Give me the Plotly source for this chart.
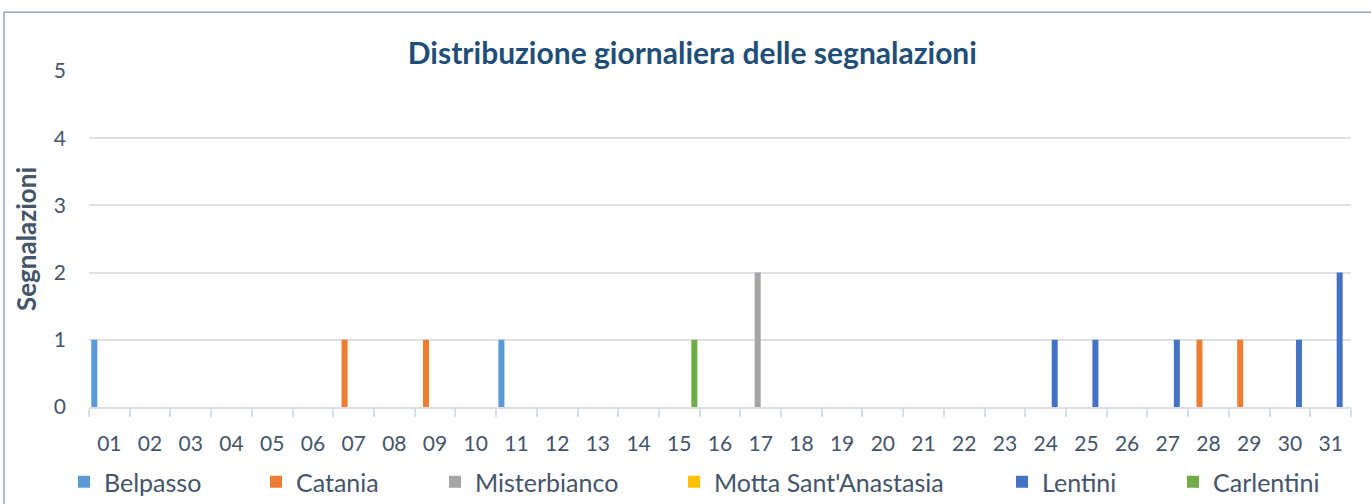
import plotly.graph_objects as go

days = [f"{d:02d}" for d in range(1, 32)]
series_names = ["Belpasso", "Catania", "Misterbianco", "Motta Sant'Anastasia", "Lentini", "Carlentini"]

belpasso = [1,0,0,0,0,0,0,0,0,0,1,0,0,0,0,0,0,0,0,0,0,0,0,0,0,0,0,0,0,0,0]
catania = [0,0,0,0,0,0,1,0,1,0,0,0,0,0,0,0,0,0,0,0,0,0,0,0,0,0,0,1,1,0,0]
misterbianco = [0,0,0,0,0,0,0,0,0,0,0,0,0,0,0,0,2,0,0,0,0,0,0,0,0,0,0,0,0,0,0]
motta = [0]*31
lentini = [0,0,0,0,0,0,0,0,0,0,0,0,0,0,0,0,0,0,0,0,0,0,0,1,1,0,1,0,0,1,2]
carlentini = [0,0,0,0,0,0,0,0,0,0,0,0,0,0,1,0,0,0,0,0,0,0,0,0,0,0,0,0,0,0,0]

values = [belpasso, catania, misterbianco, motta, lentini, carlentini]
colors = ["#5B9BD5", "#ED7D31", "#A5A5A5", "#FFC000", "#4472C4", "#70AD47"]

W, H = 1371, 504
# legend symbol left positions (px) from reference
legend_px = [81, 273, 452, 691, 1019, 1190]

TEXT = "#44546A"
FONT = "Lato"

fig = go.Figure()
for i, (name, vals, col) in enumerate(zip(series_names, values, colors)):
    lg = "legend" if i == 0 else f"legend{i+1}"
    fig.add_trace(go.Bar(x=days, y=vals, name=name, marker=dict(color=col, line=dict(width=0)),
                         legend=lg, showlegend=True))

layout_legends = {}
for i, px in enumerate(legend_px):
    key = "legend" if i == 0 else f"legend{i+1}"
    layout_legends[key] = dict(
        x=(px - 17) / W, xref="container", xanchor="left",
        y=1 - 482 / H, yref="container", yanchor="middle",
        orientation="h", font=dict(family=FONT, size=25, color=TEXT),
        bgcolor="rgba(0,0,0,0)", borderwidth=0, itemwidth=30,
        tracegroupgap=0,
    )

L, R, T, B = 89, 20, 71, 97
pw, ph = W - L - R, H - T - B

fig.update_layout(
    width=W, height=H,
    margin=dict(l=L, r=R, t=T, b=B, autoexpand=False),
    paper_bgcolor="white", plot_bgcolor="white",
    showlegend=True,
    barmode="group", bargap=0.113, bargroupgap=0,
    font=dict(family=FONT, size=21, color=TEXT),
    title=dict(text="<b>Distribuzione giornaliera delle segnalazioni</b>",
               font=dict(family=FONT, size=30, color="#1F4E79"),
               x=0.505, xanchor="center", xref="container",
               y=1 - 53 / H, yanchor="middle", yref="container"),
    xaxis=dict(type="category", tickson="boundaries", ticks="outside", ticklen=8,
               tickcolor="#D9DEE5", tickwidth=1.5, showline=True, linecolor="#D9DEE5",
               linewidth=2, showgrid=False, tickfont=dict(size=21, color=TEXT),
               ticklabelstandoff=17, automargin=False),
    yaxis=dict(range=[0, 5], dtick=1, showgrid=True, gridcolor="#DCE1E8", gridwidth=1.5,
               zeroline=False, showline=False, tickfont=dict(size=21, color=TEXT),
               ticklabelstandoff=22, automargin=False,
               title=dict(text="<b>Segnalazioni</b>", font=dict(size=26, color=TEXT), standoff=9)),
    **layout_legends,
)

# chart frame (partially outside the view on right/bottom)
fig.add_shape(type="rect", xref="paper", yref="paper",
              x0=(4 - L) / pw, x1=(1380 - L) / pw,
              y0=(H - B - 520) / ph, y1=(H - B - 12.3) / ph,
              line=dict(color="#8FA7C6", width=1.5), fillcolor="rgba(0,0,0,0)", layer="below")

fig.write_html("out.html", config={"displayModeBar": False},
               post_script="document.body.style.margin='0';document.body.style.overflow='hidden';")
